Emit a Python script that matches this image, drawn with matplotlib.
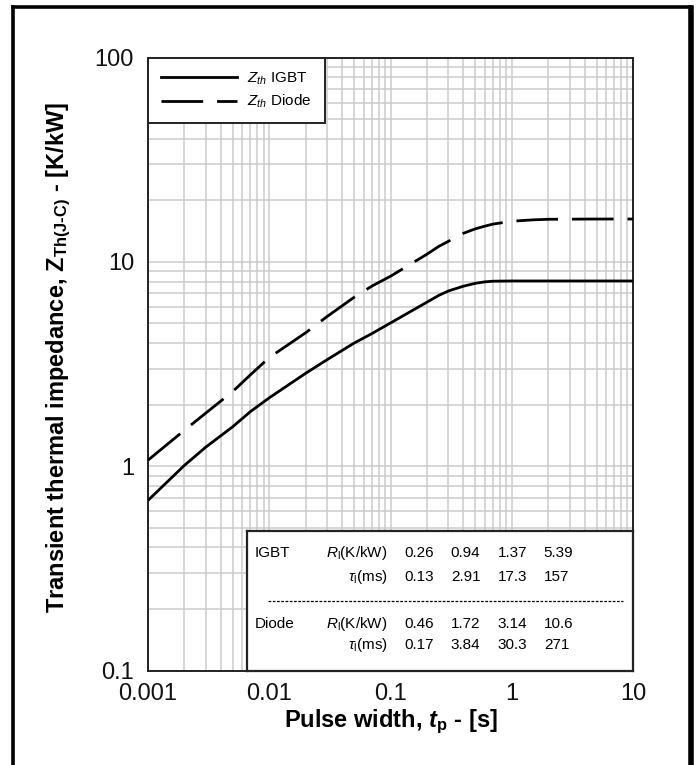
import matplotlib
matplotlib.use("Agg")
import matplotlib.pyplot as plt
from matplotlib import font_manager
from matplotlib.lines import Line2D
from matplotlib.ticker import LogLocator, NullFormatter, FixedLocator, FixedFormatter

# ---------------- data ----------------
t_p = [0.001, 0.002, 0.003, 0.005, 0.007, 0.01, 0.02, 0.03, 0.05, 0.07,
       0.1, 0.2, 0.25, 0.3, 0.4, 0.5, 0.6, 0.7, 1, 1.5, 2, 5, 10]
z_igbt = [0.68, 1.01, 1.24, 1.56, 1.85, 2.16, 2.85, 3.32, 4.00, 4.45,
          5.02, 6.35, 6.85, 7.20, 7.60, 7.85, 7.98, 8.04, 8.06, 8.06, 8.06, 8.06, 8.06]
z_diode = [1.07, 1.50, 1.82, 2.32, 2.80, 3.40, 4.50, 5.40, 6.70, 7.60,
           8.50, 10.9, 11.9, 12.6, 13.8, 14.5, 14.95, 15.3, 15.8, 16.05, 16.15, 16.2, 16.2]

series_labels = [r"$Z_{th}$ IGBT", r"$Z_{th}$ Diode"]

x_ticks = [0.001, 0.01, 0.1, 1, 10]
x_ticklabels = ["0.001", "0.01", "0.1", "1", "10"]
y_ticks = [0.1, 1, 10, 100]
y_ticklabels = ["0.1", "1", "10", "100"]

igbt_R = ["0.26", "0.94", "1.37", "5.39"]
igbt_tau = ["0.13", "2.91", "17.3", "157"]
diode_R = ["0.46", "1.72", "3.14", "10.6"]
diode_tau = ["0.17", "3.84", "30.3", "271"]

# ---------------- style ----------------
names = {f.name for f in font_manager.fontManager.ttflist}
narrow = "Liberation Sans Narrow" in names
small_font = "Liberation Sans Narrow" if narrow else "Liberation Sans"
small_fs = 12.5 if narrow else 11

plt.rcParams["font.family"] = ["Liberation Sans", "DejaVu Sans"]
plt.rcParams["mathtext.fontset"] = "custom"
plt.rcParams["mathtext.rm"] = small_font
plt.rcParams["mathtext.it"] = small_font + ":italic"
plt.rcParams["mathtext.bf"] = "Liberation Sans:bold"
plt.rcParams["mathtext.bfit"] = "Liberation Sans:italic:bold"

W, H = 699, 765
fig = plt.figure(figsize=(W / 100, H / 100), dpi=100)
fig.patch.set_facecolor("white")

ax_l, ax_r, ax_t, ax_b = 148, 633, 57.5, 670.5
ax = fig.add_axes([ax_l / W, 1 - ax_b / H, (ax_r - ax_l) / W, (ax_b - ax_t) / H])
ax.set_xscale("log")
ax.set_yscale("log")
ax.set_xlim(x_ticks[0], x_ticks[-1])
ax.set_ylim(y_ticks[0], y_ticks[-1])

ax.xaxis.set_major_locator(FixedLocator(x_ticks))
ax.xaxis.set_major_formatter(FixedFormatter(x_ticklabels))
ax.yaxis.set_major_locator(FixedLocator(y_ticks))
ax.yaxis.set_major_formatter(FixedFormatter(y_ticklabels))
ax.xaxis.set_minor_locator(LogLocator(base=10, subs=range(2, 10), numticks=20))
ax.yaxis.set_minor_locator(LogLocator(base=10, subs=range(2, 10), numticks=20))
ax.xaxis.set_minor_formatter(NullFormatter())
ax.yaxis.set_minor_formatter(NullFormatter())

ax.tick_params(which="both", length=0)
ax.tick_params(axis="y", labelsize=17, pad=10, labelcolor="#111111")
ax.tick_params(axis="x", labelsize=17, pad=9, labelcolor="#111111")

ax.set_axisbelow(True)
ax.grid(True, which="both", color="#cbcbcb", lw=1.1)
for s in ax.spines.values():
    s.set_color("#222222")
    s.set_linewidth(1.4)

ax.plot(t_p, z_igbt, color="black", lw=2.0, solid_capstyle="butt", zorder=3)
ax.plot(t_p, z_diode, color="black", lw=2.0, dashes=(15, 5), zorder=3)

ax.set_xlabel(r"Pulse width, $\mathbfit{t}_{\mathbf{p}}$ - [s]",
              fontsize=17, fontweight="bold", va="center")
ax.xaxis.set_label_coords(0.5, -0.083)
ax.set_ylabel("Transient thermal impedance, $\\mathbf{Z}_{\\mathbf{Th(J\u2010C)}}$ - [K/kW]",
              fontsize=17, fontweight="bold", va="center")
ax.yaxis.set_label_coords(-0.184, 0.51)

# legend
handles = [Line2D([], [], color="black", lw=2.0),
           Line2D([], [], color="black", lw=2.0, dashes=(15, 5))]
leg = ax.legend(handles, series_labels, loc="upper left",
                bbox_to_anchor=(0, 0.886, 0.365, 0.114), mode="expand",
                borderaxespad=0, fancybox=False, framealpha=1,
                edgecolor="#222222", prop={"family": small_font, "size": small_fs},
                handlelength=5.0, handletextpad=0.6, borderpad=0.85,
                labelspacing=0.4)
leg.get_frame().set_linewidth(1.4)
leg.set_zorder(6)

# parameter table (inset box)
tab = ax.inset_axes([0.204, 0.0, 0.796, 0.227])
tab.set_zorder(5)
tab.set_facecolor("white")
tab.set_xticks([])
tab.set_yticks([])
tab.set_xlim(0, 1)
tab.set_ylim(0, 1)
for k, s in tab.spines.items():
    s.set_color("#222222")
    s.set_linewidth(1.6)

col_x = [0.407, 0.528, 0.650, 0.769]
rows = [
    ("IGBT", r"$R_{\mathregular{l}}$(K/kW)", igbt_R, 0.842),
    ("", r"$\tau_{\mathregular{l}}$(ms)", igbt_tau, 0.669),
    ("Diode", r"$R_{\mathregular{l}}$(K/kW)", diode_R, 0.331),
    ("", r"$\tau_{\mathregular{l}}$(ms)", diode_tau, 0.180),
]
for name, unit, vals, yy in rows:
    if name:
        tab.text(0.021, yy, name, fontsize=small_fs, family=small_font,
                 va="center", ha="left")
    tab.text(0.365, yy, unit, fontsize=small_fs, family=small_font,
             va="center", ha="right")
    for cx, v in zip(col_x, vals):
        tab.text(cx, yy, v, fontsize=small_fs, family=small_font,
                 va="center", ha="left")
tab.plot([0.054, 0.974], [0.496, 0.496], color="black", lw=0.9, ls=(0, (2.2, 1.2)))

# outer frame
def fx(px):
    return px / W

def fy(py):
    return 1 - py / H

fig.add_artist(Line2D([fx(13.3), fx(13.3)], [fy(H + 5), fy(6.5)], color="black", lw=2.6,
                      transform=fig.transFigure, solid_capstyle="projecting"))
fig.add_artist(Line2D([fx(13.3), fx(690)], [fy(6.8), fy(6.8)], color="black", lw=2.6,
                      transform=fig.transFigure))
fig.add_artist(Line2D([fx(690.5), fx(690.5)], [fy(8), fy(H + 5)], color="black", lw=4.0,
                      transform=fig.transFigure))

fig.savefig("out.png", dpi=100, facecolor="white")
